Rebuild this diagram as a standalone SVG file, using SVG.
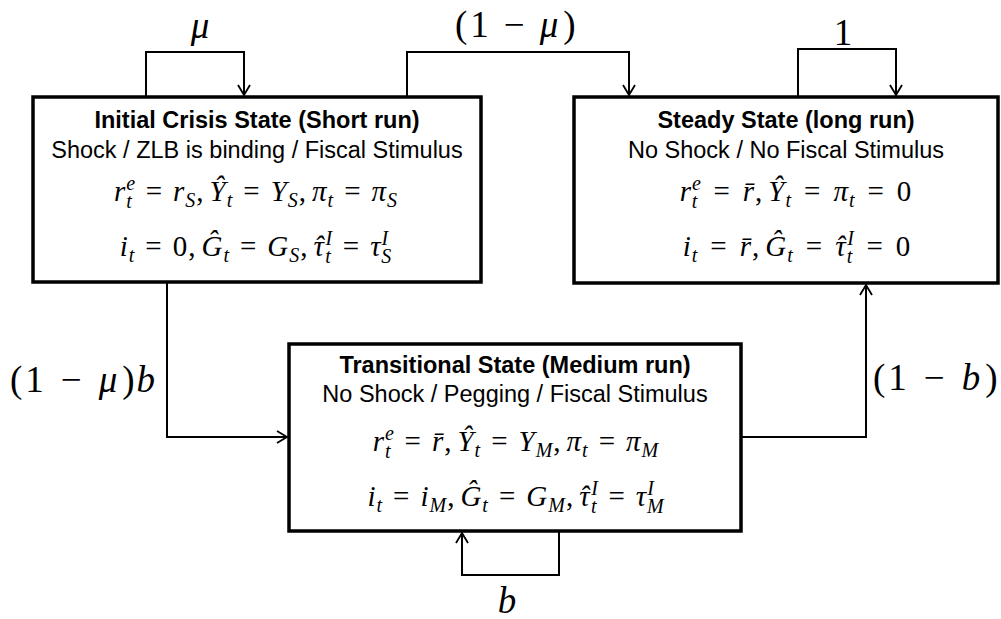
<svg xmlns="http://www.w3.org/2000/svg" width="1001" height="619" viewBox="0 0 1001 619">
<style>
.box{fill:#fff;stroke:#000;stroke-width:3.5}
.ttl{font-family:"Liberation Sans",Arial,sans-serif;font-weight:bold;font-size:23.5px;fill:#000;text-anchor:middle}
.sub{font-family:"Liberation Sans",Arial,sans-serif;font-size:23.5px;fill:#000;text-anchor:middle}
.m{font-family:"Liberation Serif","Times New Roman",serif;font-style:italic;font-size:29px;letter-spacing:1px;fill:#000;text-anchor:middle}
.u{font-style:normal}
.s{font-size:20px}
.lbl{font-family:"Liberation Serif","Times New Roman",serif;font-size:37px;fill:#000}
.i{font-style:italic}
.con{fill:none;stroke:#000;stroke-width:2}
</style>
<defs>
<marker id="arr" markerUnits="userSpaceOnUse" markerWidth="14" markerHeight="14" viewBox="0 0 14 14" refX="12" refY="7" orient="auto">
<path d="M2,1 L12,7 L2,13" fill="none" stroke="#000" stroke-width="1.8"/>
</marker>
</defs>
<g id="connectors">
<path class="con" d="M146,97 V52 H244 V95" marker-end="url(#arr)"/>
<path class="con" d="M407,97 V52 H629 V95" marker-end="url(#arr)"/>
<path class="con" d="M798,97 V49 H896 V95" marker-end="url(#arr)"/>
<path class="con" d="M167,282 V437 H287" marker-end="url(#arr)"/>
<path class="con" d="M741,437 H866 V285" marker-end="url(#arr)"/>
<path class="con" d="M559,531 V575 H462 V533" marker-end="url(#arr)"/>
</g>
<g id="labels">
<text class="lbl" x="200" y="38" text-anchor="middle"><tspan class="i">μ</tspan></text>
<text class="lbl" x="455" y="37">(<tspan dx="3">1</tspan><tspan dx="15">−</tspan><tspan class="i" dx="15">μ</tspan><tspan dx="5">)</tspan></text>
<text class="lbl" x="843" y="45" text-anchor="middle">1</text>
<text class="lbl" x="10" y="392">(<tspan dx="3">1</tspan><tspan dx="17">−</tspan><tspan class="i" dx="17">μ</tspan><tspan dx="5">)</tspan><tspan class="i" dx="2">b</tspan></text>
<text class="lbl" x="873" y="390">(<tspan dx="3">1</tspan><tspan dx="17">−</tspan><tspan class="i" dx="17">b</tspan><tspan dx="5">)</tspan></text>
<text class="lbl" x="507" y="613" text-anchor="middle"><tspan class="i">b</tspan></text>
</g>
<g id="initial-crisis">
<rect class="box" x="33" y="97" width="448" height="185"/>
<text class="ttl" x="257" y="128">Initial Crisis State (Short run)</text>
<text class="sub" x="257" y="158">Shock / ZLB is binding / Fiscal Stimulus</text>
<text class="m" x="256" y="201"><tspan>r</tspan><tspan class="s" dy="-11">e</tspan><tspan class="s" dx="-10" dy="18">t</tspan><tspan class="u" dx="13" dy="-7">=</tspan><tspan dx="10">r</tspan><tspan class="s" dy="6">S</tspan><tspan class="u" dy="-6">,</tspan><tspan dx="5">Ŷ</tspan><tspan class="s" dy="6">t</tspan><tspan class="u" dx="10" dy="-6">=</tspan><tspan dx="10">Y</tspan><tspan class="s" dy="6">S</tspan><tspan class="u" dy="-6">,</tspan><tspan dx="5">π</tspan><tspan class="s" dy="6">t</tspan><tspan class="u" dx="10" dy="-6">=</tspan><tspan dx="10">π</tspan><tspan class="s" dy="6">S</tspan></text>
<text class="m" x="256" y="256"><tspan>i</tspan><tspan class="s" dy="6">t</tspan><tspan class="u" dx="10" dy="-6">=</tspan><tspan class="u" dx="10">0,</tspan><tspan dx="5">Ĝ</tspan><tspan class="s" dy="6">t</tspan><tspan class="u" dx="10" dy="-6">=</tspan><tspan dx="10">G</tspan><tspan class="s" dy="6">S</tspan><tspan class="u" dy="-6">,</tspan><tspan dx="5">τ</tspan><tspan dx="-11">ˆ</tspan><tspan class="s" dx="1" dy="-11">I</tspan><tspan class="s" dx="-8" dy="18">t</tspan><tspan class="u" dx="11" dy="-7">=</tspan><tspan dx="10">τ</tspan><tspan class="s" dy="-11">I</tspan><tspan class="s" dx="-8" dy="18">S</tspan></text>
</g>
<g id="steady-state">
<rect class="box" x="574" y="97" width="424" height="186"/>
<text class="ttl" x="786" y="128">Steady State (long run)</text>
<text class="sub" x="786" y="158">No Shock / No Fiscal Stimulus</text>
<text class="m" x="796" y="201"><tspan>r</tspan><tspan class="s" dy="-11">e</tspan><tspan class="s" dx="-10" dy="18">t</tspan><tspan class="u" dx="15" dy="-7">=</tspan><tspan dx="12">r̄</tspan><tspan class="u">,</tspan><tspan dx="5">Ŷ</tspan><tspan class="s" dy="6">t</tspan><tspan class="u" dx="12" dy="-6">=</tspan><tspan dx="12">π</tspan><tspan class="s" dy="6">t</tspan><tspan class="u" dx="12" dy="-6">=</tspan><tspan class="u" dx="12">0</tspan></text>
<text class="m" x="797" y="256"><tspan>i</tspan><tspan class="s" dy="6">t</tspan><tspan class="u" dx="12" dy="-6">=</tspan><tspan dx="12">r̄</tspan><tspan class="u">,</tspan><tspan dx="5">Ĝ</tspan><tspan class="s" dy="6">t</tspan><tspan class="u" dx="12" dy="-6">=</tspan><tspan dx="12">τ</tspan><tspan dx="-11">ˆ</tspan><tspan class="s" dx="1" dy="-11">I</tspan><tspan class="s" dx="-8" dy="18">t</tspan><tspan class="u" dx="13" dy="-7">=</tspan><tspan class="u" dx="12">0</tspan></text>
</g>
<g id="transitional-state">
<rect class="box" x="289" y="344" width="452" height="187"/>
<text class="ttl" x="515" y="373">Transitional State (Medium run)</text>
<text class="sub" x="515" y="402">No Shock / Pegging / Fiscal Stimulus</text>
<text class="m" x="516" y="451"><tspan>r</tspan><tspan class="s" dy="-11">e</tspan><tspan class="s" dx="-10" dy="18">t</tspan><tspan class="u" dx="13" dy="-7">=</tspan><tspan dx="10">r̄</tspan><tspan class="u">,</tspan><tspan dx="5">Ŷ</tspan><tspan class="s" dy="6">t</tspan><tspan class="u" dx="10" dy="-6">=</tspan><tspan dx="10">Y</tspan><tspan class="s" dy="6">M</tspan><tspan class="u" dy="-6">,</tspan><tspan dx="5">π</tspan><tspan class="s" dy="6">t</tspan><tspan class="u" dx="10" dy="-6">=</tspan><tspan dx="10">π</tspan><tspan class="s" dy="6">M</tspan></text>
<text class="m" x="516" y="506"><tspan>i</tspan><tspan class="s" dy="6">t</tspan><tspan class="u" dx="10" dy="-6">=</tspan><tspan dx="10">i</tspan><tspan class="s" dy="6">M</tspan><tspan class="u" dy="-6">,</tspan><tspan dx="5">Ĝ</tspan><tspan class="s" dy="6">t</tspan><tspan class="u" dx="10" dy="-6">=</tspan><tspan dx="10">G</tspan><tspan class="s" dy="6">M</tspan><tspan class="u" dy="-6">,</tspan><tspan dx="5">τ</tspan><tspan dx="-11">ˆ</tspan><tspan class="s" dx="1" dy="-11">I</tspan><tspan class="s" dx="-8" dy="18">t</tspan><tspan class="u" dx="11" dy="-7">=</tspan><tspan dx="10">τ</tspan><tspan class="s" dy="-11">I</tspan><tspan class="s" dx="-8" dy="18">M</tspan></text>
</g>
</svg>
